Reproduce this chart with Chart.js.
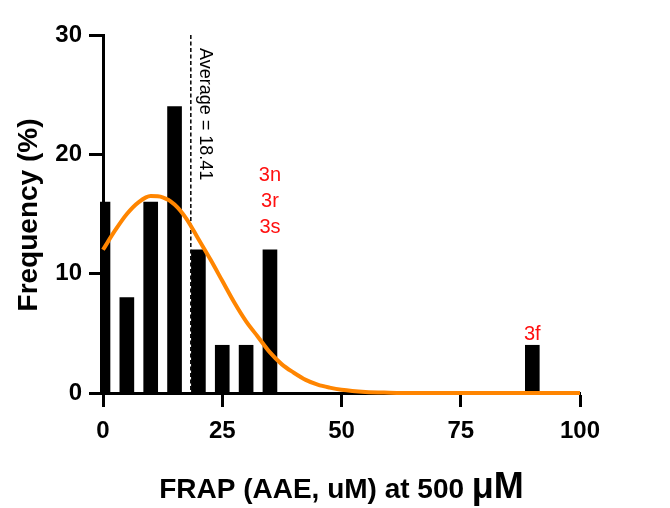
<!DOCTYPE html>
<html>
<head>
<meta charset="utf-8">
<script src="https://cdn.jsdelivr.net/npm/chart.js@4.4.1/dist/chart.umd.min.js"></script>
<style>
  html, body { margin: 0; padding: 0; background: #fff; }
  canvas { display: block; }
</style>
</head>
<body>
<canvas id="freqChart" width="670" height="508"></canvas>
<script>
// histogram bins (FRAP value) and frequency in %
const binCenters = [0, 5, 10, 15, 20, 25, 30, 35, 90];
const binFreq = [16, 8, 16, 24, 12, 4, 4, 12, 4];

// gaussian fit curve
const fitX = [0, 2.5, 5, 7.5, 10, 12.5, 15, 17.5, 20, 22.5, 25, 27.5, 30, 32.5, 35, 37.5, 40, 42.5, 45, 47.5, 50, 55, 60, 65, 70, 80, 90, 100];
const fitY = [12.0, 13.6, 15.0, 16.0, 16.5, 16.4, 15.8, 14.6, 12.9, 11.2, 9.4, 7.6, 6.0, 4.7, 3.4, 2.4, 1.7, 1.1, 0.7, 0.45, 0.27, 0.09, 0.03, 0, 0, 0, 0, 0];

const xTicks = [0, 25, 50, 75, 100];
const yTicks = [0, 10, 20, 30];

const avgValue = 18.41;
const avgLabel = 'Average = 18.41';

// compound labels above bars
const barNotes = [
  { x: 35, lines: ['3n', '3r', '3s'] },
  { x: 90, lines: ['3f'] }
];

const xTitle = 'FRAP (AAE, uM) at 500 ';
const xTitleUnit = 'μM';
const yTitle = 'Frequency (%)';

const FONT = 'Arial, "Liberation Sans", Helvetica, sans-serif';

const extras = {
  id: 'extras',
  beforeDatasetsDraw(chart) {
    const { ctx, chartArea, scales } = chart;
    const px = scales.x.getPixelForValue(avgValue);
    ctx.save();
    ctx.strokeStyle = '#000';
    ctx.lineWidth = 1.5;
    ctx.setLineDash([4, 2.5]);
    ctx.beginPath();
    ctx.moveTo(px, chartArea.top);
    ctx.lineTo(px, chartArea.bottom);
    ctx.stroke();
    ctx.setLineDash([]);

    ctx.translate(px + 9, chartArea.top + 13);
    ctx.rotate(Math.PI / 2);
    ctx.fillStyle = '#000';
    ctx.font = '18px ' + FONT;
    ctx.textAlign = 'left';
    ctx.textBaseline = 'alphabetic';
    ctx.fillText(avgLabel, 0, 0);
    ctx.restore();
  },
  afterDraw(chart) {
    const { ctx, chartArea, scales } = chart;
    ctx.save();

    // red notes
    ctx.fillStyle = '#ff1010';
    ctx.font = '20px ' + FONT;
    ctx.textAlign = 'center';
    ctx.textBaseline = 'alphabetic';
    barNotes.forEach(n => {
      const i = binCenters.indexOf(n.x);
      const bx = scales.x.getPixelForValue(n.x);
      const top = scales.y.getPixelForValue(binFreq[i]);
      const gap = n.lines.length > 1 ? 17 : 5;
      n.lines.slice().reverse().forEach((t, k) => {
        ctx.fillText(t, bx, top - gap - k * 26);
      });
    });

    // x title, mixed sizes
    ctx.fillStyle = '#000';
    ctx.textAlign = 'left';
    const f1 = 'bold 28px ' + FONT;
    const f2 = 'bold 36px ' + FONT;
    ctx.font = f1;
    const w1 = ctx.measureText(xTitle).width;
    ctx.font = f2;
    const w2 = ctx.measureText(xTitleUnit).width;
    const cx = (chartArea.left + chartArea.right) / 2;
    const x0 = cx - (w1 + w2) / 2;
    ctx.font = f1;
    ctx.fillText(xTitle, x0, 498);
    ctx.font = f2;
    ctx.fillText(xTitleUnit, x0 + w1, 498);

    // y title
    ctx.translate(37, 215);
    ctx.rotate(-Math.PI / 2);
    ctx.font = 'bold 28px ' + FONT;
    ctx.textAlign = 'center';
    ctx.fillText(yTitle, 0, 0);
    ctx.restore();
  }
};

const axisCommon = {
  grid: { drawOnChartArea: false, tickLength: 14, tickWidth: 3, tickColor: '#000', offset: false },
  border: { color: '#000', width: 3 }
};

new Chart(document.getElementById('freqChart').getContext('2d'), {
  type: 'bar',
  data: {
    datasets: [
      {
        type: 'line',
        data: fitX.map((x, i) => ({ x, y: fitY[i] })),
        borderColor: '#ff8500',
        borderWidth: 4,
        pointRadius: 0,
        cubicInterpolationMode: 'monotone',
        fill: false,
        clip: false
      },
      {
        type: 'bar',
        data: binCenters.map((x, i) => ({ x, y: binFreq[i] })),
        backgroundColor: '#000',
        borderWidth: 0,
        barThickness: 14,
        clip: { left: 3, top: 5, right: 5, bottom: 0 }
      }
    ]
  },
  options: {
    responsive: false,
    animation: false,
    layout: { padding: { top: 35, right: 90, left: 0, bottom: 0 } },
    plugins: { legend: { display: false }, tooltip: { enabled: false } },
    scales: {
      x: {
        type: 'linear',
        min: 0,
        max: 100,
        offset: false,
        afterBuildTicks: s => { s.ticks = xTicks.map(v => ({ value: v })); },
        ticks: { color: '#000', padding: 10, maxRotation: 0, font: { size: 24, weight: 'bold', family: FONT } },
        afterFit: s => { s.height = 115; },
        ...axisCommon
      },
      y: {
        min: 0,
        max: 30,
        afterBuildTicks: s => { s.ticks = yTicks.map(v => ({ value: v })); },
        ticks: { color: '#000', padding: 7, font: { size: 24, weight: 'bold', family: FONT } },
        afterFit: s => { s.width = 103; },
        ...axisCommon
      }
    }
  },
  plugins: [extras]
});
</script>
</body>
</html>
